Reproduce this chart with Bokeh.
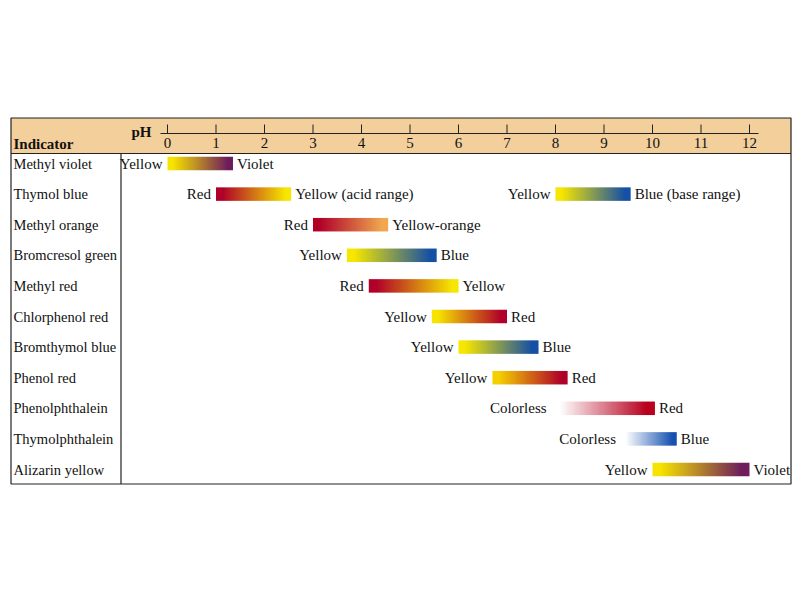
import numpy as np
from bokeh.plotting import figure
from bokeh.models import Range1d
from bokeh.core.properties import value
from bokeh.embed import file_html
from bokeh.resources import INLINE

# ---------------- data ----------------
indicators = ["Methyl violet", "Thymol blue", "Methyl orange", "Bromcresol green",
              "Methyl red", "Chlorphenol red", "Bromthymol blue", "Phenol red",
              "Phenolphthalein", "Thymolphthalein", "Alizarin yellow"]
ph_ticks = list(range(0, 13))

trans_row = [0, 1, 1, 2, 3, 4, 5, 6, 7, 8, 9, 10]
ph_low = [0.0, 1.0, 8.0, 3.0, 3.7, 4.15, 5.45, 6.0, 6.7, 7.92, 9.35, 10.0]
ph_high = [1.35, 2.55, 9.55, 4.55, 5.55, 6.0, 7.0, 7.65, 8.25, 10.05, 10.5, 12.0]
color_low_name = ["Yellow", "Red", "Yellow", "Red", "Yellow", "Red", "Yellow",
                  "Yellow", "Yellow", "Colorless", "Colorless", "Yellow"]
color_high_name = ["Violet", "Yellow (acid range)", "Blue (base range)", "Yellow-orange",
                   "Blue", "Yellow", "Red", "Blue", "Red", "Red", "Blue", "Violet"]
rgb_low = ["#f6e400", "#b0002a", "#f6e600", "#b0002a", "#f6e600", "#b0002a", "#f6e400",
           "#f6e600", "#f4d000", "#ffffff", "#ffffff", "#f6e400"]
rgb_high = ["#6e1c5c", "#f6e600", "#1650a6", "#f0a850", "#1650a6", "#f6e600", "#b0002a",
            "#1650a6", "#b0002a", "#b8001e", "#1450b0", "#6e1c5c"]

# ---------------- layout helpers ----------------
W, H = 798, 592
OFF = 0                 # page offset of the figure
PX_PER_PH = 48.5
PH0_PX = 167.0          # pH 0 position (page px)
ROW_PX = 30.6
ROW0_PX = 163.0         # first row centre (page px)


def fx(px):  # page pixel -> data x
    return (px - PH0_PX) / PX_PER_PH


def fy(py):  # page pixel -> data y
    return (py - ROW0_PX) / ROW_PX


p = figure(width=W, height=H, output_backend="svg", toolbar_location=None,
           x_range=Range1d(fx(OFF), fx(OFF + W)),
           y_range=Range1d(fy(OFF + H), fy(OFF)),
           min_border=0, outline_line_color=None)
p.axis.visible = False
p.grid.visible = False
p.background_fill_color = "white"
p.border_fill_color = "white"

FONT = value("Liberation Serif")
FS = "15px"
INK = "#111111"

# header band
p.quad(left=[fx(10.5)], right=[fx(790.5)], top=[fy(117.5)], bottom=[fy(153)],
       fill_color="#f2cf9b", line_color=None)
# box outline
p.quad(left=[fx(10.5)], right=[fx(790.5)], top=[fy(117.5)], bottom=[fy(483.5)],
       fill_color=None, line_color="#222222", line_width=1.2)
p.segment(x0=[fx(10.5)], x1=[fx(790.5)], y0=[fy(153)], y1=[fy(153)],
          line_color="#222222", line_width=1.2)
p.segment(x0=[fx(120.5)], x1=[fx(120.5)], y0=[fy(153)], y1=[fy(483.5)],
          line_color="#222222", line_width=1.2)

# pH axis
p.segment(x0=[fx(160)], x1=[fx(758)], y0=[fy(133)], y1=[fy(133)],
          line_color="#222222", line_width=1)
p.segment(x0=ph_ticks, x1=ph_ticks, y0=[fy(124)] * len(ph_ticks), y1=[fy(133)] * len(ph_ticks),
          line_color="#222222", line_width=1)
p.text(x=ph_ticks, y=[fy(142.5)] * len(ph_ticks), text=[str(t) for t in ph_ticks],
       text_font=FONT, text_font_size=FS, text_align="center",
       text_baseline="middle", text_color=INK)
p.text(x=[fx(131)], y=[fy(131)], text=["pH"], text_font=FONT, text_font_size=FS,
       text_font_style="bold", text_baseline="middle", text_color=INK)
p.text(x=[fx(13)], y=[fy(143)], text=["Indicator"], text_font=FONT, text_font_size=FS,
       text_font_style="bold", text_baseline="middle", text_color=INK)

# indicator names
p.text(x=[fx(13)] * len(indicators), y=list(range(len(indicators))), text=indicators,
       text_font=FONT, text_font_size="14.5px", text_baseline="middle", text_color=INK)


# gradient bars as images
def hex2rgb(h):
    h = h.lstrip("#")
    return tuple(int(h[i:i + 2], 16) for i in (0, 2, 4))


M = 120
BAR_H = 13.5 / ROW_PX
imgs, xs, ys, dws = [], [], [], []
for row, lo, hi, c0, c1 in zip(trans_row, ph_low, ph_high, rgb_low, rgb_high):
    a, b = np.array(hex2rgb(c0), float), np.array(hex2rgb(c1), float)
    t = (np.arange(M) + 0.5) / M
    t = np.clip((t - 0.08) / 0.84, 0, 1)[:, None]
    rgb = np.round(a + (b - a) * t).astype(np.uint32)
    img = np.zeros((2, M), dtype=np.uint32)
    view = img.view(dtype=np.uint8).reshape((2, M, 4))
    for r in range(2):
        view[r, :, 0] = rgb[:, 0]
        view[r, :, 1] = rgb[:, 1]
        view[r, :, 2] = rgb[:, 2]
        view[r, :, 3] = 255
    imgs.append(img)
    xs.append(lo)
    dws.append(hi - lo)
    ys.append(row - BAR_H / 2)
p.image_rgba(image=imgs, x=xs, y=ys, dw=dws, dh=[BAR_H] * len(imgs))

# colour labels
p.text(x=ph_low, y=trans_row, text=color_low_name, x_offset=-5,
       text_font=FONT, text_font_size=FS, text_align="right",
       text_baseline="middle", text_color=INK)
p.text(x=ph_high, y=trans_row, text=color_high_name, x_offset=4,
       text_font=FONT, text_font_size=FS, text_align="left",
       text_baseline="middle", text_color=INK)

open("out.html", "w").write(file_html(p, INLINE))
